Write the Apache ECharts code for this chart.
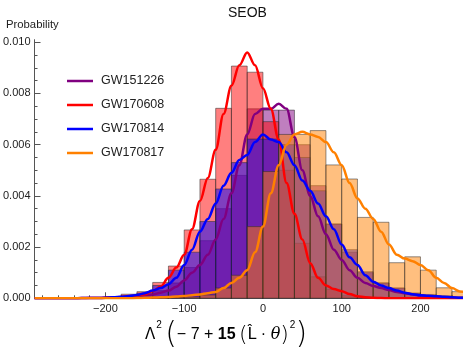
<!DOCTYPE html>
<html><head><meta charset="utf-8">
<script src="https://cdn.jsdelivr.net/npm/echarts@6/dist/echarts.min.js"></script>
<style>html,body{margin:0;padding:0;background:#fff}#c{width:463px;height:353px}</style>
</head><body><div id="c"></div>
<script>
// ---- categories / tick labels ----
const seriesNames = ['GW151226', 'GW170608', 'GW170814', 'GW170817'];
const binStarts = [-200,-180,-160,-140,-120,-100,-80,-60,-40,-20,0,20,40,60,80,100,120,140,160,180,200,220,240];
const binWidth = 20;
const xTickLabels = [-200, -100, 0, 100, 200];
const xMinorTicks = [-280,-260,-240,-220,-200,-180,-160,-140,-120,-100,-80,-60,-40,-20,0,20,40,60,80,100,120,140,160,180,200,220,240];
const yTickLabels = [0, 0.002, 0.004, 0.006, 0.008, 0.010];
const yMinorTicks = [0,0.0005,0.001,0.0015,0.002,0.0025,0.003,0.0035,0.004,0.0045,0.005,0.0055,0.006,0.0065,0.007,0.0075,0.008,0.0085,0.009,0.0095,0.010];

// ---- histogram heights (per bin) ----
const histGW151226 = [0.00002,0.00005,0.0001,0.0003,0.0006,0.0012,0.00225,0.0035,0.0048,0.0074,0.00735,0.00735,0.0060,0.0044,0.0029,0.0018,0.0010,0.0006,0.0004,0.0002,0.0001,0.00005,0.00002];
const histGW170608 = [0.00006,0.00016,0.00026,0.00062,0.00126,0.00267,0.00465,0.00742,0.00907,0.00883,0.0069,0.0050,0.00215,0.00084,0.00035,0.0001,0.00005,0.00002,0,0,0,0,0];
const histGW170814 = [0.00004,0.0001,0.0002,0.0005,0.0011,0.0018,0.0030,0.00427,0.0053,0.00622,0.00622,0.0060,0.0055,0.0042,0.0029,0.0019,0.00104,0.0006,0.0004,0.0002,0.00015,0.0001,0.00005];
const histGW170817 = [0,0,0,0.00002,0.00003,0.00005,0.00013,0.0004,0.0009,0.0028,0.00495,0.0064,0.0064,0.00655,0.00521,0.00466,0.00316,0.00297,0.00139,0.00162,0.0011,0.00041,0.00026];

// ---- smooth density curves ----
const curveX = [-290,-280,-270,-260,-250,-240,-230,-220,-210,-200,-190,-180,-170,-160,-150,-140,-130,-120,-110,-100,-90,-80,-70,-60,-50,-40,-30,-20,-10,0,10,20,30,40,50,60,70,80,90,100,110,120,130,140,150,160,170,180,190,200,210,220,230,240,250,260];
const curveGW151226 = [0,0,0,0,0,0,0,0.00001,0.00001,0.00002,0.00003,0.00004,0.00006,0.00008,0.00011,0.00015,0.00022,0.0003,0.00045,0.0007,0.001,0.0013,0.0017,0.0023,0.0031,0.0041,0.0052,0.0064,0.0072,0.0074,0.0074,0.0076,0.0074,0.0063,0.0050,0.0040,0.0032,0.0025,0.0019,0.0015,0.0011,0.0008,0.0006,0.00048,0.0004,0.00032,0.00025,0.0002,0.00015,0.00011,0.00008,0.00006,0.00004,0.00003,0.00002,0.00001];
const curveGW170608 = [0,0,0,0,0,0,0.00001,0.00001,0.00001,0.00002,0.00003,0.00005,0.00008,0.00011,0.00016,0.00028,0.00045,0.0008,0.0012,0.0017,0.0027,0.0038,0.0047,0.0058,0.0072,0.0083,0.0091,0.0096,0.0091,0.0082,0.0074,0.0062,0.0045,0.0033,0.0023,0.00137,0.0008,0.0005,0.00036,0.00028,0.00017,0.00008,0.00004,0.00002,0.00001,0,0,0,0,0,0,0,0,0,0,0];
const curveGW170814 = [0,0,0,0,0,0,0.00001,0.00001,0.00001,0.00002,0.00004,0.00006,0.00009,0.00013,0.0002,0.0003,0.0004,0.00055,0.0008,0.0013,0.0019,0.0026,0.0031,0.0037,0.0044,0.0049,0.0054,0.0056,0.0061,0.0064,0.0062,0.0061,0.0057,0.0052,0.0046,0.0042,0.0037,0.0032,0.0027,0.0021,0.0016,0.0013,0.0009,0.00065,0.0005,0.0004,0.0003,0.00022,0.00016,0.00012,0.0001,0.00008,0.00006,0.00004,0.00002,0.00001];
const curveGW170817 = [0,0,0,0,0,0,0,0,0,0,0,0,0,0.00001,0.00002,0.00003,0.00004,0.00005,0.00007,0.00009,0.00012,0.00015,0.0002,0.00025,0.0004,0.0006,0.0008,0.0011,0.0018,0.0028,0.0041,0.0052,0.0060,0.0064,0.0065,0.0064,0.0063,0.0061,0.0057,0.0052,0.0045,0.0039,0.0035,0.0031,0.0026,0.0021,0.0017,0.00155,0.00145,0.0013,0.0011,0.0008,0.0006,0.0004,0.00027,0.0002];

// ---- styling ----
const lineColors = ['#800080', '#ff0000', '#0000ff', '#ff8000'];
const fillColors = ['rgba(128,0,128,0.5)', 'rgba(255,0,0,0.5)', 'rgba(0,0,255,0.5)', 'rgba(255,128,0,0.5)'];
const hists = [histGW151226, histGW170608, histGW170814, histGW170817];
const curves = [curveGW151226, curveGW170608, curveGW170814, curveGW170817];
const FONT = 'Liberation Sans, Arial, sans-serif';

function histSeries(i) {
  return {
    type: 'custom', name: seriesNames[i] + ' hist', clip: true, silent: true, z: 2,
    xAxisIndex: 0, yAxisIndex: 0,
    data: binStarts.map((b, k) => [b, b + binWidth, hists[i][k]]),
    encode: { x: [0, 1], y: 2 },
    renderItem: function (params, api) {
      const p0 = api.coord([api.value(0), api.value(2)]);
      const p1 = api.coord([api.value(1), 0]);
      return {
        type: 'rect',
        shape: { x: p0[0], y: p0[1], width: p1[0] - p0[0], height: p1[1] - p0[1] },
        style: { fill: fillColors[i], stroke: 'rgba(40,40,40,0.5)', lineWidth: 1 }
      };
    }
  };
}
function lineSeries(i) {
  return {
    type: 'line', name: seriesNames[i], z: 5, xAxisIndex: 0, yAxisIndex: 0,
    data: curveX.map((x, k) => [x, curves[i][k]]),
    smooth: 0.35, smoothMonotone: 'x', showSymbol: false, clip: true,
    lineStyle: { color: lineColors[i], width: 2.5 }, itemStyle: { color: lineColors[i] }
  };
}

const chart = echarts.init(document.getElementById('c'), null, { renderer: 'canvas' });
const axisColor = '#555';
chart.setOption({
  animation: false,
  backgroundColor: '#fff',
  grid: { left: 33, right: 0, top: 39.7, bottom: 54.7, containLabel: false },
  legend: {
    data: seriesNames, orient: 'vertical', left: 67, top: 74, icon: 'rect',
    itemWidth: 26, itemHeight: 2.5, itemGap: 10, padding: 0, selectedMode: false,
    textStyle: { fontSize: 12.5, fontFamily: FONT, color: '#222', lineHeight: 14, padding: [0, 0, 0, 3] }
  },
  xAxis: [{
    type: 'value', min: -290, max: 254, position: 'bottom',
    axisLine: { show: true, onZero: false, lineStyle: { color: axisColor, width: 1 } },
    axisTick: { show: true, inside: true, length: 6, customValues: xTickLabels, lineStyle: { color: axisColor } },
    axisLabel: { customValues: xTickLabels, fontSize: 11, fontFamily: FONT, color: '#222', margin: 5,
      formatter: v => (v < 0 ? '\u2212' + Math.abs(v) : String(v)) },
    splitLine: { show: false }
  }, {
    type: 'value', min: -290, max: 254, position: 'bottom', offset: 0,
    axisLine: { show: false, onZero: false },
    axisTick: { show: true, inside: true, length: 3, customValues: xMinorTicks, lineStyle: { color: axisColor } },
    axisLabel: { show: false }, splitLine: { show: false }
  }],
  yAxis: [{
    type: 'value', min: 0, max: 0.0101, position: 'left',
    axisLine: { show: true, onZero: false, lineStyle: { color: axisColor, width: 1 } },
    axisTick: { show: true, inside: true, length: 6, customValues: yTickLabels, lineStyle: { color: axisColor } },
    axisLabel: { customValues: yTickLabels, fontSize: 11, fontFamily: FONT, color: '#222', margin: 4,
      formatter: v => v.toFixed(3) },
    splitLine: { show: false }
  }, {
    type: 'value', min: 0, max: 0.0101, position: 'left', offset: 0,
    axisLine: { show: false, onZero: false },
    axisTick: { show: true, inside: true, length: 3, customValues: yMinorTicks, lineStyle: { color: axisColor } },
    axisLabel: { show: false }, splitLine: { show: false }
  }],
  graphic: [
    { type: 'text', left: 228, top: 6, style: { text: 'SEOB', font: '14px ' + FONT, fill: '#111' } },
    { type: 'text', left: 6, top: 19, style: { text: 'Probability', font: '11.3px ' + FONT, fill: '#222' } },
    { type: 'text', x: 145, y: 335, style: {
        text: '{g|\u039B}{s|2} {bp|(}{n|\u2212 7 + }{b|15} {p|(}{l|L\u0302}{n| \u00B7 }{th|\u03B8}{p|)}{s|2}{bp|)}',
        textVerticalAlign: 'middle', textAlign: 'left',
        rich: {
          g: { fontSize: 15, fontFamily: 'DejaVu Sans', color: '#777' },
          s: { fontSize: 10, fontFamily: FONT, color: '#444', verticalAlign: 'top', lineHeight: 30, padding: [0, 0, 14, 1] },
          bp: { fontSize: 30, fontFamily: 'DejaVu Sans', fontWeight: 200, color: '#777' },
          p: { fontSize: 22, fontFamily: 'DejaVu Sans', fontWeight: 200, color: '#777' },
          n: { fontSize: 16, fontFamily: FONT, color: '#333' },
          b: { fontSize: 16, fontFamily: FONT, fontWeight: 'bold', color: '#222' },
          l: { fontSize: 16, fontFamily: 'DejaVu Sans', color: '#333' },
          th: { fontSize: 16, fontFamily: 'DejaVu Serif', fontStyle: 'italic', color: '#777' }
        }
      } }
  ],
  series: [histSeries(0), histSeries(1), histSeries(2), histSeries(3),
           lineSeries(0), lineSeries(1), lineSeries(2), lineSeries(3)]
});
</script></body></html>
